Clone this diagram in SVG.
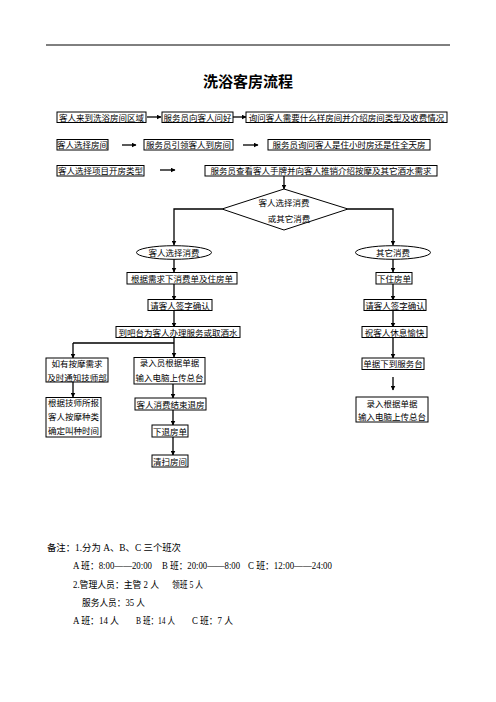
<svg xmlns="http://www.w3.org/2000/svg" width="496" height="702" viewBox="0 0 496 702">
<style>
.bx{fill:#fff;stroke:#000;stroke-width:1}
.t{font-family:"Liberation Serif","Noto Sans CJK SC",serif;font-size:8.5px;fill:#000;text-anchor:middle}
.n{font-family:"Liberation Serif","Noto Sans CJK SC",serif;font-size:9.5px;fill:#000}
.a{fill:none;stroke:#000;stroke-width:1.3;marker-end:url(#ah)}
</style>
<defs>
<marker id="ah" viewBox="0 0 10 10" refX="9" refY="5" markerWidth="5" markerHeight="5" markerUnits="userSpaceOnUse" orient="auto"><path d="M0,0L10,5L0,10z" fill="#000"/></marker>
</defs>
<rect width="496" height="702" fill="#fff"/>
<line x1="46" y1="45" x2="450" y2="45" stroke="#000" stroke-width="1"/>
<text x="248" y="87" style="font-family:'Noto Sans CJK SC',sans-serif;font-size:15px;font-weight:bold;text-anchor:middle">洗浴客房流程</text>

<g id="connectors">
<path class="a" d="M147,117H161"/>
<path class="a" d="M233,117H246"/>
<path class="a" d="M122,145H136"/>
<path class="a" d="M243,145H258"/>
<path class="a" d="M160,170H175"/>
<path class="a" d="M284,176V189"/>
<path class="a" d="M222,209H174V245"/>
<path class="a" d="M348,209H393V245"/>
<path class="a" d="M174,259V272"/>
<path class="a" d="M174,284V300"/>
<path class="a" d="M174,310V327"/>
<path class="a" d="M393,259V272"/>
<path class="a" d="M393,284V300"/>
<path class="a" d="M393,310V327"/>
<path class="a" d="M174,337V357"/>
<path class="a" d="M73,343H174M73,343V358"/>
<path class="a" d="M73,382V397"/>
<path class="a" d="M173,384V398"/>
<path class="a" d="M173,410V425"/>
<path class="a" d="M173,437V455"/>
<path class="a" d="M393,337V358"/>
<path class="a" d="M393,377V390"/>
</g>

<g id="n1"><rect class="bx" x="57" y="112" width="89" height="10.5"/><text class="t" x="101.5" y="120.5">客人来到洗浴房间区域</text></g>
<g id="n2"><rect class="bx" x="162" y="112" width="71" height="10.5"/><text class="t" x="197.5" y="120.5">服务员向客人问好</text></g>
<g id="n3"><rect class="bx" x="246" y="112" width="201" height="10.5"/><text class="t" x="346.5" y="120.5">询问客人需要什么样房间并介绍房间类型及收费情况</text></g>

<g id="n4"><rect class="bx" x="57" y="139.5" width="51" height="10.5"/><text class="t" x="82.5" y="148">客人选择房间</text></g>
<g id="n5"><rect class="bx" x="144" y="139.5" width="89" height="10.5"/><text class="t" x="188.5" y="148">服务员引领客人到房间</text></g>
<g id="n6"><rect class="bx" x="268" y="139.5" width="162" height="10.5"/><text class="t" x="349" y="148">服务员询问客人是住小时房还是住全天房</text></g>

<g id="n7"><rect class="bx" x="57" y="165.5" width="87" height="10.5"/><text class="t" x="100.5" y="174">客人选择项目开房类型</text></g>
<g id="n8"><rect class="bx" x="205" y="165.5" width="232" height="10.5"/><text class="t" x="321" y="174">服务员查看客人手牌并向客人推销介绍按摩及其它酒水需求</text></g>

<g id="n9"><polygon class="bx" points="284,189 348,209 284,230 222,209"/><text class="t" x="284" y="206">客人选择消费</text><text class="t" x="289" y="222">或其它消费</text></g>

<g id="n10"><ellipse class="bx" cx="174" cy="252.5" rx="37.5" ry="6.8"/><text class="t" x="174" y="255.5">客人选择消费</text></g>
<g id="n11"><ellipse class="bx" cx="393" cy="252.5" rx="37.5" ry="6.8"/><text class="t" x="393" y="255.5">其它消费</text></g>

<g id="n12"><rect class="bx" x="127" y="272.5" width="110" height="11.5"/><text class="t" x="182" y="281.5">根据需求下消费单及住房单</text></g>
<g id="n13"><rect class="bx" x="148" y="299.5" width="64" height="11"/><text class="t" x="180" y="308.5">请客人签字确认</text></g>
<g id="n14"><rect class="bx" x="116" y="326.5" width="124" height="11"/><text class="t" x="178" y="335.5">到吧台为客人办理服务或取酒水</text></g>

<g id="n15"><rect class="bx" x="376" y="272.5" width="36" height="11.5"/><text class="t" x="394" y="281.5">下住房单</text></g>
<g id="n16"><rect class="bx" x="364" y="299.5" width="62" height="11"/><text class="t" x="395" y="308.5">请客人签字确认</text></g>
<g id="n17"><rect class="bx" x="362" y="326.5" width="65" height="11"/><text class="t" x="394.5" y="335.5">祝客人休息愉快</text></g>

<g id="n18"><rect class="bx" x="46" y="358" width="62" height="24"/><text class="t" x="77" y="366.5">如有按摩需求</text><text class="t" x="77" y="380.5">及时通知技师部</text></g>
<g id="n19"><rect class="bx" x="46" y="397.5" width="55" height="39.5"/><text class="t" x="73.5" y="406">根据技师所报</text><text class="t" x="73.5" y="420">客人按摩种类</text><text class="t" x="73.5" y="434">确定叫种时间</text></g>

<g id="n20"><rect class="bx" x="134" y="357.5" width="71" height="26.5"/><text class="t" x="169.5" y="365.5">录入员根据单据</text><text class="t" x="169.5" y="381">输入电脑上传总台</text></g>
<g id="n21"><rect class="bx" x="135" y="398" width="71" height="12"/><text class="t" x="170.5" y="407.5">客人消费结束退房</text></g>
<g id="n22"><rect class="bx" x="152" y="425" width="36" height="12"/><text class="t" x="170" y="434.5">下退房单</text></g>
<g id="n23"><rect class="bx" x="152" y="455" width="36" height="12"/><text class="t" x="170" y="464.5">清扫房间</text></g>

<g id="n24"><rect class="bx" x="362" y="358" width="62" height="11.5"/><text class="t" x="393" y="367">单据下到服务台</text></g>
<g id="n25"><rect class="bx" x="356" y="397" width="72" height="25"/><text class="t" x="392" y="406.5">录入根据单据</text><text class="t" x="392" y="420">输入电脑上传总台</text></g>

<g id="notes">
<text class="n" x="47" y="551" textLength="134" lengthAdjust="spacingAndGlyphs">备注：1.分为 A、B、C 三个班次</text>
<text class="n" x="73" y="568.5" textLength="79" lengthAdjust="spacingAndGlyphs">A 班：8:00——20:00</text>
<text class="n" x="162" y="568.5" textLength="78" lengthAdjust="spacingAndGlyphs">B 班：20:00——8:00</text>
<text class="n" x="248" y="568.5" textLength="84" lengthAdjust="spacingAndGlyphs">C 班：12:00——24:00</text>
<text class="n" x="73" y="588" textLength="86" lengthAdjust="spacingAndGlyphs">2.管理人员：主管 2 人</text>
<text class="n" x="172" y="588" textLength="31" lengthAdjust="spacingAndGlyphs">领班 5 人</text>
<text class="n" x="82" y="606" textLength="63" lengthAdjust="spacingAndGlyphs">服务人员：35 人</text>
<text class="n" x="73" y="624" textLength="46" lengthAdjust="spacingAndGlyphs">A 班：14 人</text>
<text class="n" x="136" y="624" textLength="39" lengthAdjust="spacingAndGlyphs">B 班：14 人</text>
<text class="n" x="192" y="624" textLength="41" lengthAdjust="spacingAndGlyphs">C 班：7 人</text>
</g>
</svg>
